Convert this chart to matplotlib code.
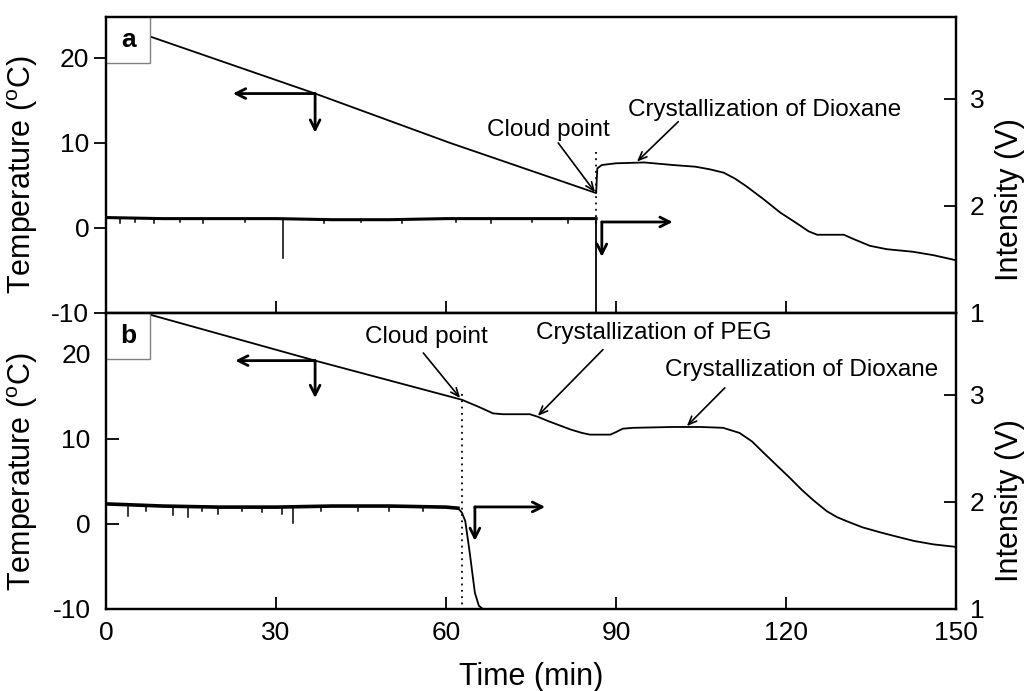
import matplotlib
matplotlib.use("Agg")
import matplotlib.pyplot as plt
from matplotlib.patches import Rectangle

plt.rcParams.update({"font.family": ["Liberation Sans", "DejaVu Sans"],
                     "mathtext.fontset": "custom",
                     "mathtext.rm": "Liberation Sans",
                     "axes.unicode_minus": False,
                     "axes.linewidth": 1.6})

# ------------------------------------------------------------------ data
# panel a : temperature (degC) vs time (min)
temp_a_t = [0, 7.8, 36.9, 60.7, 86.5, 86.7, 87.5, 90, 95, 100, 104, 106.5,
            109, 111, 113, 116, 119, 122, 124, 125.5, 128.3, 130.2, 131.9,
            134.8, 137.8, 142.4, 146, 150]
temp_a_v = [24.2, 22.5, 15.8, 10.0, 4.1, 7.0, 7.4, 7.6, 7.7, 7.4, 7.2, 6.9,
            6.5, 5.8, 4.9, 3.4, 1.8, 0.5, -0.4, -0.8, -0.8, -0.8, -1.3,
            -2.1, -2.5, -2.8, -3.2, -3.8]
# panel a : intensity (V), noisy plateau then drop at the cloud point
noisy_a_t = [0, 10, 20, 30, 40, 50, 60, 70, 80, 86.5]
noisy_a_v = [1.89, 1.88, 1.88, 1.88, 1.87, 1.87, 1.88, 1.88, 1.88, 1.88]
drop_a_t = [86.5, 86.5, 150]
drop_a_v = [1.88, 1.0, 1.0]
spike_a_t = [2.5, 5.1, 8.4, 13.0, 17.2, 24.6, 31.2, 38.5, 45.0, 52.3, 61.8, 68.0, 75.2, 81.6]
spike_a_v = [1.84, 1.85, 1.84, 1.85, 1.84, 1.85, 1.51, 1.84, 1.85, 1.84, 1.85, 1.84, 1.85, 1.84]

# panel b : temperature
temp_b_t = [0, 7.8, 36.9, 62.8, 66, 68.3, 70, 74.8, 76.2, 78, 80, 82, 84,
            85.4, 89, 90, 91.2, 93, 100, 105, 108.9, 111.8, 114, 116, 118.5,
            120.7, 122.8, 124.8, 127.2, 129, 130.8, 133.5, 136.7, 139.6,
            142.6, 146, 150]
temp_b_v = [26.0, 24.6, 19.2, 14.6, 13.7, 13.0, 12.9, 12.9, 12.6, 12.1, 11.6, 11.1, 10.7,
            10.5, 10.5, 10.8, 11.2, 11.3, 11.4, 11.4, 11.3, 10.7, 9.7, 8.4, 6.8,
            5.4, 4.0, 2.8, 1.5, 0.8, 0.3, -0.4, -1.0, -1.5,
            -2.0, -2.4, -2.7]
# panel b : intensity
noisy_b_t = [0, 5, 10, 20, 30, 40, 50, 60, 62.1]
noisy_b_v = [1.98, 1.97, 1.96, 1.95, 1.95, 1.96, 1.96, 1.95, 1.94]
drop_b_t = [62.1, 62.8, 63.4, 64.2, 65.1, 65.8, 66.5, 150]
drop_b_v = [1.94, 1.90, 1.82, 1.52, 1.15, 1.03, 1.0, 1.0]
spike_b_t = [3.9, 7.0, 11.9, 14.5, 17.0, 19.8, 24.0, 27.5, 31.0, 33.0, 38.0, 44.5, 50.0, 56.0]
spike_b_v = [1.87, 1.91, 1.88, 1.86, 1.91, 1.89, 1.91, 1.90, 1.89, 1.80, 1.91, 1.91, 1.91, 1.91]

xticks = [0, 30, 60, 90, 120, 150]
temp_ticks = [-10, 0, 10, 20]
int_ticks = [1, 2, 3]

# ------------------------------------------------------------------ figure
W, H = 1031, 691
fig = plt.figure(figsize=(W / 100, H / 100), dpi=100)
L, R = 106 / W, 956 / W
ax_a = fig.add_axes([L, 1 - 313 / H, R - L, 296 / H])
ax_b = fig.add_axes([L, 1 - 609 / H, R - L, 296 / H], sharex=ax_a)
tw_a = ax_a.twinx()
tw_b = ax_b.twinx()

for ax in (ax_a, ax_b):
    ax.set_xlim(0, 150)
    ax.set_ylim(-10, 24.8)
    ax.set_xticks(xticks)
    ax.set_yticks(temp_ticks)
for tw in (tw_a, tw_b):
    tw.set_ylim(1, 3.76)
    tw.set_yticks(int_ticks)
    tw.tick_params(axis="y", direction="in", length=9, width=1.3, labelsize=19, pad=10)

ax_a.tick_params(axis="y", direction="out", length=9, width=1.3, labelsize=19, pad=3)
ax_a.tick_params(axis="x", direction="in", length=9, width=1.3, labelbottom=False)
ax_b.tick_params(axis="both", direction="in", length=9, width=1.3, labelsize=19)
ax_b.tick_params(axis="y", pad=11)
ax_b.tick_params(axis="x", pad=9)

LW = 1.3
ax_a.plot(temp_a_t, temp_a_v, color="black", lw=LW)
tw_a.plot(noisy_a_t, noisy_a_v, color="black", lw=2.2)
tw_a.plot(drop_a_t, drop_a_v, color="black", lw=LW)
for t, v in zip(spike_a_t, spike_a_v):
    tw_a.plot([t, t], [1.88, v], color="black", lw=1.1)

ax_b.plot(temp_b_t, temp_b_v, color="black", lw=LW)
tw_b.plot(noisy_b_t, noisy_b_v, color="black", lw=2.6)
tw_b.plot(drop_b_t, drop_b_v, color="black", lw=LW)
for t, v in zip(spike_b_t, spike_b_v):
    tw_b.plot([t, t], [1.95, v], color="black", lw=1.1)

# cloud point dotted lines
ax_a.plot([86.5, 86.5], [8.9, 0.5], color="black", ls=(0, (1, 2.5)), lw=1.3)
ax_b.plot([62.8, 62.8], [15.3, -10], color="black", ls=(0, (1, 2.5)), lw=1.3)

# panel boxes
for ax, lab in ((ax_a, "a"), (ax_b, "b")):
    ax.add_patch(Rectangle((0, 1 - 0.156), 0.052, 0.156, transform=ax.transAxes,
                           fc="white", ec="#808080", lw=1.0, zorder=5))
    ax.text(0.026, 1 - 0.078, lab, transform=ax.transAxes, ha="center", va="center",
            fontsize=19, fontweight="bold", zorder=6)

# axis-direction arrows
big = dict(arrowstyle="->,head_length=0.7,head_width=0.35", lw=2.0,
           shrinkA=0, shrinkB=0, color="black")


def corner_arrow(ax, corner, x_tip, y_tip):
    ax.annotate("", xy=(x_tip, corner[1]), xytext=corner, arrowprops=big)
    ax.annotate("", xy=(corner[0], y_tip), xytext=corner, arrowprops=big)


corner_arrow(ax_a, (36.9, 15.8), 22.4, 11.2)
corner_arrow(ax_a, (87.5, 0.7), 100.0, -3.4)
corner_arrow(ax_b, (36.9, 19.2), 22.8, 14.8)
corner_arrow(ax_b, (65.1, 2.0), 77.5, -2.0)

# text annotations
small = dict(arrowstyle="->,head_length=0.6,head_width=0.25", lw=1.2,
             shrinkA=0, shrinkB=0, color="black")
ax_a.text(78.0, 11.5, "Cloud point", fontsize=17.5, ha="center", va="center")
ax_a.annotate("", xy=(86.3, 4.2), xytext=(79.8, 10.0), arrowprops=small)
ax_a.text(116.3, 13.9, "Crystallization of Dioxane", fontsize=17.5, ha="center", va="center")
ax_a.annotate("", xy=(93.7, 7.8), xytext=(101.0, 12.5), arrowprops=small)

ax_b.text(56.6, 22.0, "Cloud point", fontsize=17.5, ha="center", va="center")
ax_b.annotate("", xy=(62.5, 14.8), xytext=(56.0, 20.1), arrowprops=small)
ax_b.text(96.6, 22.5, "Crystallization of PEG", fontsize=17.5, ha="center", va="center")
ax_b.annotate("", xy=(76.2, 12.7), xytext=(87.7, 20.5), arrowprops=small)
ax_b.text(122.7, 18.1, "Crystallization of Dioxane", fontsize=17.5, ha="center", va="center")
ax_b.annotate("", xy=(102.5, 11.5), xytext=(109.2, 16.0), arrowprops=small)

# axis labels
templab = "Temperature ($^{\\rm o}$C)"
fig.text(23 / W, 1 - 175 / H, templab, rotation=90, ha="center", va="center", fontsize=22)
fig.text(23 / W, 1 - 472 / H, templab, rotation=90, ha="center", va="center", fontsize=22)
fig.text(1010 / W, 1 - 200 / H, "Intensity (V)", rotation=90, ha="center", va="center", fontsize=22)
fig.text(1010 / W, 1 - 501 / H, "Intensity (V)", rotation=90, ha="center", va="center", fontsize=22)
fig.text(531 / W, 1 - 685 / H, "Time (min)", ha="center", va="baseline", fontsize=22)

fig.savefig("out.png", dpi=100)
